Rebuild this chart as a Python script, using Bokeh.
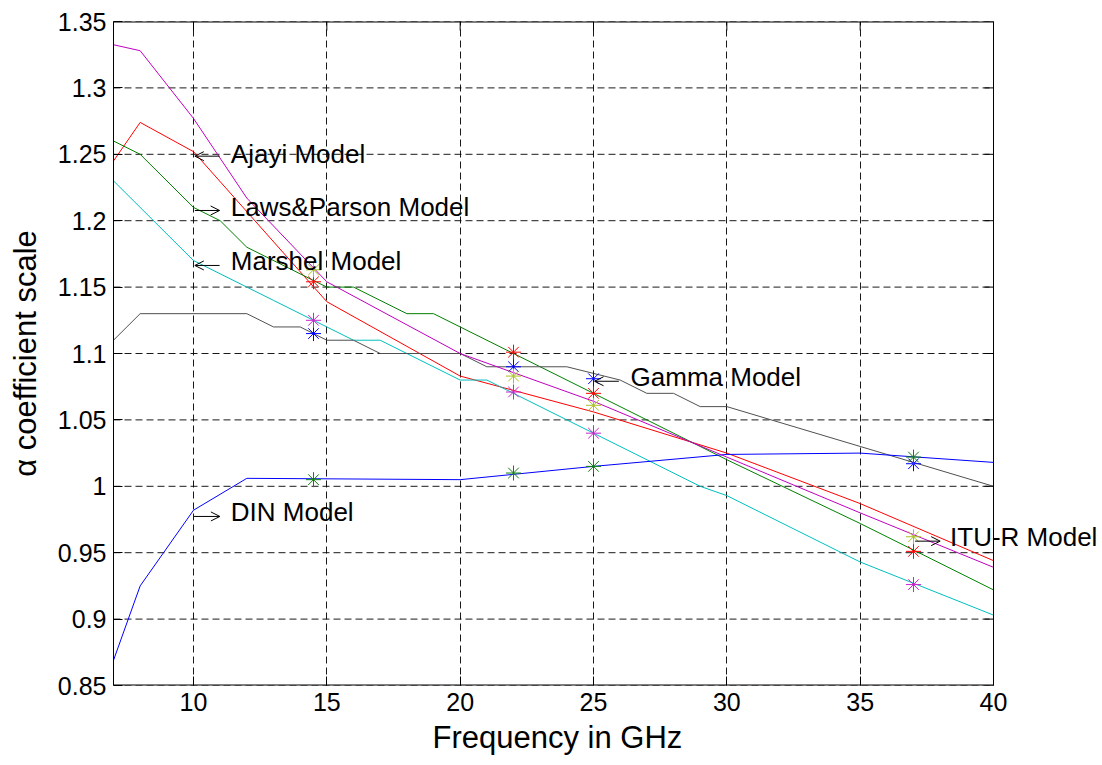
from bokeh.plotting import figure
from bokeh.models import (Range1d, FixedTicker, Label, Arrow, OpenHead, Title)
from bokeh.embed import file_html
from bokeh.resources import INLINE

# ---- data ----
ajayi_f = [7, 8, 10, 15, 20, 25, 30, 35, 40]
ajayi_a = [1.245, 1.274, 1.252, 1.139, 1.083, 1.056, 1.025, 0.987, 0.944]

laws_f = [7, 8, 10, 11, 12, 15, 16, 18, 19, 20, 25, 30, 35, 40]
laws_a = [1.26, 1.25, 1.21, 1.20, 1.18, 1.15, 1.15, 1.13, 1.13, 1.12, 1.07, 1.02, 0.972, 0.922]

marshel_f = [7, 10, 11, 12, 13, 15, 16, 17, 20, 21, 25, 29, 30, 35, 40]
marshel_a = [1.23, 1.17, 1.16, 1.15, 1.14, 1.12, 1.11, 1.11, 1.08, 1.08, 1.04, 1.00, 0.993, 0.943, 0.903]

gamma_f = [7, 8, 12, 13, 14, 15, 16, 17, 20, 21, 24, 26, 27, 28, 29, 30, 35, 40]
gamma_a = [1.11, 1.13, 1.13, 1.12, 1.12, 1.11, 1.11, 1.10, 1.10, 1.09, 1.09, 1.08, 1.07, 1.07, 1.06, 1.06, 1.03, 1.00]

din_f = [7, 8, 10, 12, 20, 25, 30, 35, 40]
din_a = [0.869, 0.925, 0.982, 1.006, 1.005, 1.015, 1.024, 1.025, 1.018]

itu_f = [7, 8, 10, 12, 15, 20, 25, 30, 35, 40]
itu_a = [1.3325, 1.328, 1.277, 1.217, 1.154, 1.100, 1.064, 1.022, 0.980, 0.939]

meas_f = [14.5, 22, 25, 37]
meas_red = [1.154, 1.101, 1.070, 0.951]
meas_blue = [1.115, 1.090, 1.081, 1.017]
meas_olive = [1.163, 1.083, 1.061, 0.962]
meas_magenta = [1.125, 1.071, 1.040, 0.926]
meas_green = [1.005, 1.010, 1.015, 1.022]

x_ticks = [10, 15, 20, 25, 30, 35, 40]
y_ticks = [0.85, 0.9, 0.95, 1.0, 1.05, 1.1, 1.15, 1.2, 1.25, 1.3, 1.35]
y_tick_labels = ["0.85", "0.9", "0.95", "1", "1.05", "1.1", "1.15", "1.2", "1.25", "1.3", "1.35"]

x_title = "Frequency in GHz"
y_title = "\u03b1 coefficient scale"

# annotations: (text, arrow start x, arrow end x, arrow y, text x, text y)
annotations = [
    ("Ajayi Model", 10.98, 10.05, 1.2486, 11.40, 1.2504),
    ("Laws&Parson Model", 10.05, 10.98, 1.2077, 11.40, 1.2102),
    ("Marshel Model", 10.98, 10.05, 1.1663, 11.40, 1.1700),
    ("Gamma Model", 25.95, 25.04, 1.0791, 26.39, 1.0822),
    ("DIN Model", 10.02, 10.99, 0.9773, 11.40, 0.9805),
    ("ITU-R Model", 37.06, 38.00, 0.9587, 38.37, 0.9617),
]

FONT = "Liberation Sans"
X0, X1, Y0, Y1 = 7, 40, 0.85, 1.35
BOX_W, FH = 880, 664          # visible axes box in px
LEFT, EXTRA = 113, 107        # left border; frame extends past the box so labels are not clipped
FW = BOX_W + EXTRA
TICK_PX = 9
px_x = (X1 - X0) / BOX_W
px_y = (Y1 - Y0) / FH

p = figure(width=LEFT + FW + 2, height=765, output_backend="svg", toolbar_location=None,
           x_range=Range1d(X0, X1 + EXTRA * px_x), y_range=Range1d(Y0, Y1),
           min_border_left=LEFT, min_border_right=2, min_border_top=21, min_border_bottom=80)
p.frame_width = FW
p.frame_height = FH
p.background_fill_color = "white"
p.border_fill_color = "white"
p.outline_line_color = None

# horizontal grid (only inside the box)
p.segment(x0=[X0] * len(y_ticks), y0=y_ticks, x1=[X1] * len(y_ticks), y1=y_ticks,
          line_color="black", line_width=1, line_dash="7 4", line_alpha=0.9)

# lines
p.line(ajayi_f, ajayi_a, line_color="#FF0000", line_width=1)
p.line(laws_f, laws_a, line_color="#008000", line_width=1)
p.line(marshel_f, marshel_a, line_color="#00BFBF", line_width=1)
p.line(gamma_f, gamma_a, line_color="#505050", line_width=1)
p.line(din_f, din_a, line_color="#0000FF", line_width=1)
p.line(itu_f, itu_a, line_color="#BF00BF", line_width=1)

# measured markers
for vals, col in [(meas_red, "#FF0000"), (meas_blue, "#0000FF"), (meas_olive, "#A8C020"),
                  (meas_magenta, "#CC22CC"), (meas_green, "#108010")]:
    p.scatter(meas_f, vals, marker="asterisk", size=15, line_color=col, line_width=1)

# box spines: top, bottom, right
p.segment(x0=[X0, X0], y0=[Y1, Y0], x1=[X1, X1], y1=[Y1, Y0], line_color="black", line_width=2)
p.segment(x0=[X1], y0=[Y0], x1=[X1], y1=[Y1], line_color="black", line_width=1)

# mirrored inward ticks on top and right
dx = TICK_PX * px_x
dy = TICK_PX * px_y
p.segment(x0=x_ticks, y0=[Y1] * len(x_ticks), x1=x_ticks, y1=[Y1 - dy] * len(x_ticks),
          line_color="black", line_width=1)
p.segment(x0=[X1] * len(y_ticks), y0=y_ticks, x1=[X1 - dx] * len(y_ticks), y1=y_ticks,
          line_color="black", line_width=1)

# annotations
for txt, xs, xe, ay, tx, ty in annotations:
    p.add_layout(Arrow(end=OpenHead(size=9, line_width=1, line_color="black"),
                       x_start=xs, y_start=ay, x_end=xe, y_end=ay,
                       line_color="black", line_width=1))
    p.add_layout(Label(x=tx, y=ty, text=txt, text_baseline="middle", text_align="left",
                       text_font=FONT, text_font_size="26px", text_color="black"))

# axes
xt = FixedTicker(ticks=x_ticks)
yt = FixedTicker(ticks=y_ticks)
p.xaxis.ticker = xt
p.yaxis.ticker = yt
p.yaxis.major_label_overrides = {t: l for t, l in zip(y_ticks, y_tick_labels)}

for ax in [p.xaxis[0], p.yaxis[0]]:
    ax.major_tick_in = TICK_PX
    ax.major_tick_out = 0
    ax.minor_tick_in = 0
    ax.minor_tick_out = 0
    ax.axis_line_color = "black"
    ax.major_tick_line_color = "black"
    ax.major_label_text_font = FONT
    ax.major_label_text_font_size = "25px"
    ax.major_label_text_color = "black"
    ax.axis_label_text_font = FONT
    ax.axis_label_text_font_style = "normal"
    ax.axis_label_text_color = "black"

p.xaxis.axis_line_color = None
p.xaxis.major_label_standoff = 7
p.yaxis.axis_label = y_title
p.yaxis.axis_label_text_font_size = "31px"
p.yaxis.major_label_standoff = 7
p.yaxis.axis_label_standoff = 12

# x axis title, centred under the visible box (not the extended frame)
p.add_layout(Title(text=x_title, align="left", offset=319, standoff=9,
                   text_font=FONT, text_font_size="31px", text_font_style="normal",
                   text_color="black"), "below")

# vertical grid
p.xgrid.ticker = xt
p.ygrid.visible = False
p.xgrid.grid_line_color = "black"
p.xgrid.grid_line_dash = "7 4"
p.xgrid.grid_line_width = 1
p.xgrid.grid_line_alpha = 0.9

open("out.html", "w").write(file_html(p, INLINE))
